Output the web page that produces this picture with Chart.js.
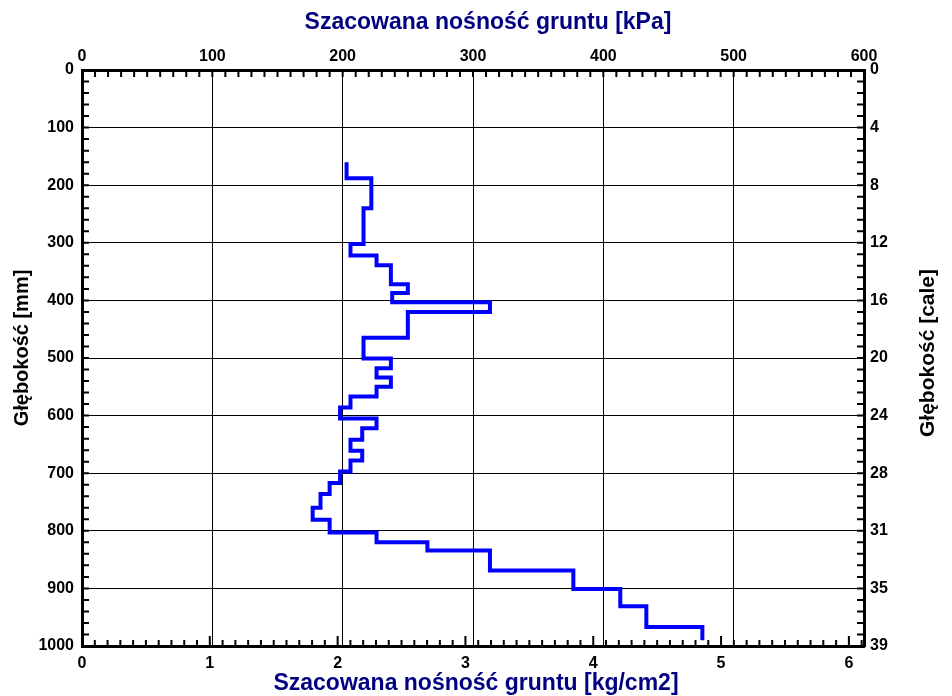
<!DOCTYPE html>
<html>
<head>
<meta charset="utf-8">
<script src="https://cdn.jsdelivr.net/npm/chart.js@4.4.1/dist/chart.umd.min.js"></script>
<style>
  html, body { margin: 0; padding: 0; background: #fff; }
  #wrap { width: 952px; height: 696px; }
</style>
</head>
<body>
<div id="wrap"><canvas id="myChart" width="952" height="696"></canvas></div>
<script>
// depth boundaries of each layer [mm] (one more than the values)
const depthMm = [160, 188, 240, 302, 322, 339, 372, 387, 403, 420, 465, 501, 518, 534, 550, 567, 586,
    605, 622, 642, 661, 678, 697, 717, 736, 760, 781, 803, 820, 834, 869, 901, 931, 967, 990];
// estimated bearing capacity for each layer [kPa]
const bearingKPa = [203, 222, 216, 206, 226, 237, 250, 238, 313, 250, 216, 237, 226, 237, 226, 206, 198,
    226, 215, 206, 215, 206, 198, 190, 183, 177, 190, 226, 265, 313, 377, 413, 433, 476];
// right axis labels (inches) for 0..1000 mm every 100
const inchTicks = [0, 4, 8, 12, 16, 20, 24, 28, 31, 35, 39];

const KPA_PER_KGCM2 = 98.0665;
const FONT = '"Liberation Sans", Arial, sans-serif';

const points = bearingKPa.map((v, i) => ({ x: v, y: depthMm[i] }));
points.push({ x: bearingKPa[bearingKPa.length - 1], y: depthMm[depthMm.length - 1] });

function text(ctx, str, x, y, rot, font, color) {
    ctx.save();
    ctx.translate(x, y);
    ctx.rotate(rot);
    ctx.fillStyle = color;
    ctx.font = font;
    ctx.textAlign = 'center';
    ctx.textBaseline = 'middle';
    ctx.fillText(str, 0, 0);
    ctx.restore();
}

// small ticks drawn inside the frame, plus the axis titles
const innerTicks = {
    id: 'innerTicks',
    afterDatasetsDraw(chart) {
        const { ctx, chartArea: a, scales } = chart;
        ctx.save();
        ctx.strokeStyle = '#000';
        ctx.lineWidth = 2;
        ctx.beginPath();
        for (let v = 0; v <= 600; v += 10) {
            const x = scales.x.getPixelForValue(v);
            ctx.moveTo(x, a.top);
            ctx.lineTo(x, a.top + 7);
        }
        for (let i = 0; i <= 61; i++) {
            const x = scales.x2.getPixelForValue(i / 10);
            ctx.moveTo(x, a.bottom);
            ctx.lineTo(x, a.bottom - (i % 10 === 0 ? 10 : 6));
        }
        for (let d = 0; d <= 1000; d += 20) {
            const y = scales.y.getPixelForValue(d);
            ctx.moveTo(a.left, y);
            ctx.lineTo(a.left + 7, y);
            ctx.moveTo(a.right, y);
            ctx.lineTo(a.right - 7, y);
        }
        ctx.stroke();
        ctx.restore();

        const midX = (a.left + a.right) / 2;
        const midY = (a.top + a.bottom) / 2;
        text(ctx, 'Szacowana nośność gruntu [kPa]', midX + 15, 22.5, 0, 'bold 23px ' + FONT, '#000080');
        text(ctx, 'Szacowana nośność gruntu [kg/cm2]', midX + 3, 684, 0, 'bold 23px ' + FONT, '#000080');
        text(ctx, 'Głębokość [mm]', 22, midY - 10, -Math.PI / 2, 'bold 20px ' + FONT, '#000');
        text(ctx, 'Głębokość [cale]', 928, midY - 5, -Math.PI / 2, 'bold 21px ' + FONT, '#000');
    }
};

const tickFont = { family: FONT, size: 16, weight: 'bold', lineHeight: 1 };
const frame = { display: true, width: 3, color: '#000' };

const ctx = document.getElementById('myChart');

new Chart(ctx, {
    type: 'scatter',
    data: {
        datasets: [{
            data: points,
            xAxisID: 'x',
            yAxisID: 'y',
            showLine: true,
            stepped: 'after',
            borderColor: '#0000ff',
            borderWidth: 4,
            borderJoinStyle: 'miter',
            pointRadius: 0,
            pointHoverRadius: 0,
            fill: false
        }]
    },
    options: {
        responsive: false,
        devicePixelRatio: 1,
        animation: false,
        layout: { padding: 0 },
        plugins: {
            legend: { display: false },
            tooltip: { enabled: false }
        },
        scales: {
            x: {
                type: 'linear',
                position: 'top',
                min: 0,
                max: 600,
                ticks: { stepSize: 100, color: '#000', font: tickFont, padding: 5, maxRotation: 0 },
                grid: { color: '#000', lineWidth: 1, drawTicks: false },
                border: frame,
                afterFit(s) { s.height = 70; }
            },
            x2: {
                type: 'linear',
                position: 'bottom',
                min: 0,
                max: 600 / KPA_PER_KGCM2,
                ticks: { stepSize: 1, includeBounds: false, color: '#000', font: tickFont, padding: 10, maxRotation: 0, autoSkip: false },
                grid: { drawOnChartArea: false, drawTicks: false },
                border: frame,
                afterFit(s) { s.height = 50; }
            },
            y: {
                type: 'linear',
                position: 'left',
                reverse: true,
                min: 0,
                max: 1000,
                ticks: { stepSize: 100, color: '#000', font: tickFont, padding: 8, callback: v => String(v) },
                grid: { color: '#000', lineWidth: 1, drawTicks: false },
                border: frame,
                afterFit(s) { s.width = 82; }
            },
            y2: {
                type: 'linear',
                position: 'right',
                reverse: true,
                min: 0,
                max: 1000,
                ticks: {
                    stepSize: 100, color: '#000', font: tickFont, padding: 6,
                    callback: v => inchTicks[Math.round(v / 100)]
                },
                grid: { drawOnChartArea: false, drawTicks: false },
                border: frame,
                afterFit(s) { s.width = 88; }
            }
        }
    },
    plugins: [innerTicks]
});
</script>
</body>
</html>
